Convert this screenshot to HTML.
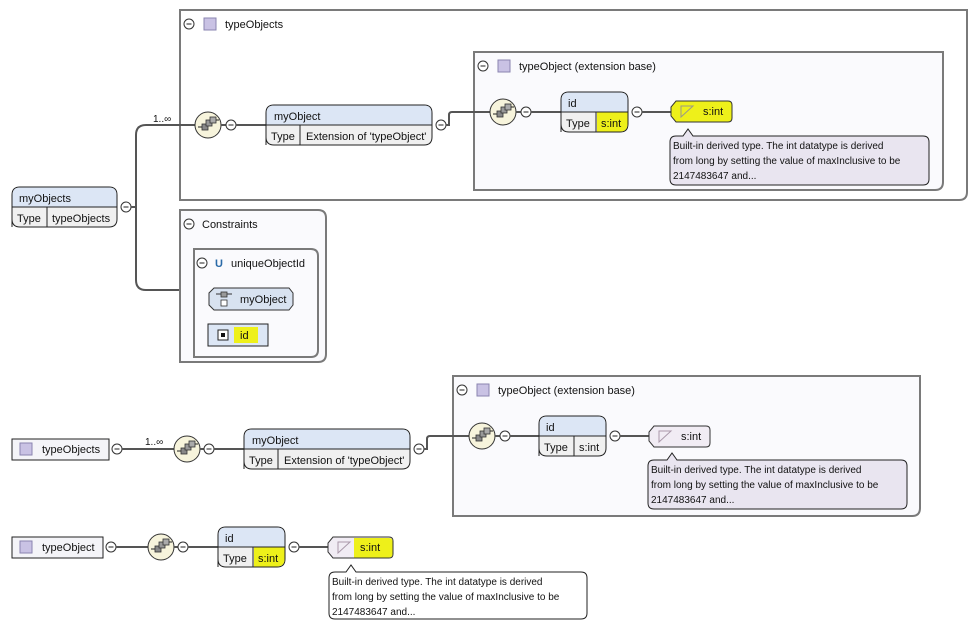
<!DOCTYPE html>
<html><head><meta charset="utf-8"><style>
html,body{margin:0;padding:0;background:#fff;width:974px;height:627px;overflow:hidden}
svg{display:block;font-family:"Liberation Sans",sans-serif;font-size:11px;fill:#111}
.bx{stroke:#7a7a7a;stroke-width:2;fill:#fafafd}
.ln{stroke:#555;stroke-width:2;fill:none}
.nd{stroke:#222;stroke-width:1;fill:#f0f0f0}
.hd{fill:#dce6f5}
.mc{fill:#fff;stroke:#333;stroke-width:1}
.sq{fill:#f7f4dc;stroke:#333;stroke-width:1}
.tt{fill:#e9e5f0;stroke:#222;stroke-width:1}
.hl{fill:#eef01a}
.sep{stroke:url(#fade);stroke-width:2}
.lav{fill:#c9c2e4;stroke:#8a84b0;stroke-width:1}
</style></head><body>
<svg width="974" height="627" viewBox="0 0 974 627" xmlns="http://www.w3.org/2000/svg">
<defs>
<linearGradient id="fade" x1="0" y1="0" x2="1" y2="0"><stop offset="0" stop-color="#bbb"/><stop offset="0.6" stop-color="#ccc"/><stop offset="1" stop-color="#ccc" stop-opacity="0.1"/></linearGradient>
<g id="minus"><circle cx="0" cy="0" r="5" class="mc"/><line x1="-2.5" y1="0" x2="2.5" y2="0" stroke="#222" stroke-width="1"/></g>
<g id="seq"><circle cx="0" cy="0" r="13" class="sq"/>
<rect x="-6" y="-1" width="6" height="6" fill="#888" stroke="#333" stroke-width=".8"/>
<rect x="-2" y="-5" width="6" height="6" fill="#999" stroke="#333" stroke-width=".8"/>
<rect x="2" y="-8" width="6" height="6" fill="#aaa" stroke="#333" stroke-width=".8"/>
<line x1="-10" y1="2" x2="-6" y2="2" stroke="#222"/><line x1="8" y1="-5" x2="11" y2="-5" stroke="#222"/></g>
</defs>

<path d="M180 10 H967 V192 Q967 200 959 200 H180 Z" class="bx" style="fill:#fff"/>
<use href="#minus" x="189" y="24"/>
<rect x="204" y="18" width="12" height="12" class="lav"/>
<text x="225" y="28">typeObjects</text>
<line x1="186" y1="39" x2="770" y2="39" class="sep"/>

<path d="M474 52 H943 V182 Q943 190 935 190 H474 Z" class="bx"/>
<use href="#minus" x="483" y="66"/>
<rect x="498" y="60" width="12" height="12" class="lav"/>
<text x="519" y="70">typeObject (extension base)</text>
<line x1="480" y1="80" x2="830" y2="80" class="sep"/>

<path d="M12 227 V195 Q12 187 20 187 H109 Q117 187 117 195 V219 Q117 227 109 227 H20 Q12 227 12 219 Z" class="nd"/>
<path d="M12.5 207 V195 Q12.5 187.5 20 187.5 H109 Q116.5 187.5 116.5 195 V207 Z" class="hd"/>
<line x1="12" y1="207" x2="117" y2="207" stroke="#222"/><line x1="47" y1="207" x2="47" y2="227" stroke="#222"/>
<text x="19" y="202">myObjects</text><text x="17" y="222">Type</text><text x="52" y="222">typeObjects</text>
<use href="#minus" x="126" y="207"/>
<path d="M131 207 H136 M195 125 H146 Q136 125 136 135 V280 Q136 290 146 290 H180" class="ln"/>
<text x="153" y="122" font-size="10">1..∞</text>
<use href="#seq" x="208" y="125"/>
<line x1="221" y1="125" x2="226" y2="125" class="ln"/>
<use href="#minus" x="231" y="125"/>
<line x1="236" y1="125" x2="266" y2="125" class="ln"/>

<path d="M266 145 V113 Q266 105 274 105 H424 Q432 105 432 113 V137 Q432 145 424 145 H274 Q266 145 266 137 Z" class="nd"/>
<path d="M266.5 125 V113 Q266.5 105.5 274 105.5 H424 Q431.5 105.5 431.5 113 V125 Z" class="hd"/>
<line x1="266" y1="125" x2="432" y2="125" stroke="#222"/><line x1="300" y1="125" x2="300" y2="145" stroke="#222"/>
<text x="274" y="120">myObject</text><text x="271" y="140">Type</text><text x="306" y="140">Extension of 'typeObject'</text>
<use href="#minus" x="441" y="125"/>
<path d="M446 125 H449 V115 Q449 112 452 112 H490" class="ln"/>
<use href="#seq" x="503" y="112"/>
<line x1="516" y1="112" x2="521" y2="112" class="ln"/>
<use href="#minus" x="526" y="112"/>
<line x1="531" y1="112" x2="561" y2="112" class="ln"/>
<path d="M561 132 V100 Q561 92 569 92 H620 Q628 92 628 100 V124 Q628 132 620 132 H569 Q561 132 561 124 Z" class="nd"/>
<path d="M561.5 112 V100 Q561.5 92.5 569 92.5 H620 Q627.5 92.5 627.5 100 V112 Z" class="hd"/>
<path d="M597 112.5 H627.5 V124 Q627.5 131.5 620 131.5 H597 Z" class="hl"/>
<line x1="561" y1="112" x2="628" y2="112" stroke="#222"/><line x1="596" y1="112" x2="596" y2="132" stroke="#222"/>
<text x="568" y="107">id</text><text x="566" y="127">Type</text><text x="601" y="127">s:int</text>
<use href="#minus" x="637" y="112"/>
<line x1="642" y1="112" x2="672" y2="112" class="ln"/>
<path d="M676 101 H728 Q732 101 732 105 V118 Q732 122 728 122 H676 L671 116 V107 Z" fill="#eef01a" stroke="#333"/>
<path d="M681 117 L681 106 L693 106 Z" fill="none" stroke="#998" stroke-width="1"/>
<text x="703" y="115">s:int</text>
<path d="M676 136 Q670 136 670 142 V179 Q670 185 676 185 H923 Q929 185 929 179 V142 Q929 136 923 136 H693 L688 129 L683 136 Z" class="tt"/>
<text x="673" y="149" font-size="10">Built-in derived type. The int datatype is derived</text>
<text x="673" y="164" font-size="10">from long by setting the value of maxInclusive to be</text>
<text x="673" y="179" font-size="10">2147483647 and...</text>

<path d="M180 210 H318 Q326 210 326 218 V354 Q326 362 318 362 H180 Z" class="bx"/>
<use href="#minus" x="189" y="224"/>
<text x="202" y="228">Constraints</text>
<line x1="186" y1="238" x2="290" y2="238" class="sep"/>
<path d="M194 249 H311 Q318 249 318 256 V350 Q318 357 311 357 H194 Z" class="bx"/>
<use href="#minus" x="202" y="263"/>
<text x="215" y="267" style="fill:#2a6aa8;font-weight:bold">U</text>
<text x="231" y="267">uniqueObjectId</text>
<line x1="200" y1="277" x2="280" y2="277" class="sep"/>
<path d="M214 288 H289 L293 293 V305 L289 310 H214 L209 305 V293 Z" fill="#d8e2f0" stroke="#333"/>
<rect x="221" y="292" width="6" height="5" fill="#999" stroke="#333" stroke-width=".8"/>
<rect x="221" y="300" width="6" height="6" fill="#fff" stroke="#333" stroke-width=".8"/>
<line x1="216" y1="294" x2="221" y2="294" stroke="#333"/><line x1="227" y1="294" x2="232" y2="294" stroke="#333"/>
<text x="240" y="303">myObject</text>
<rect x="208" y="324" width="60" height="22" fill="#dce6f5" stroke="#222"/>
<rect x="234" y="327" width="24" height="16" class="hl"/>
<rect x="218" y="330" width="10" height="10" fill="#fff" stroke="#222"/><rect x="221" y="333" width="4" height="4" fill="#111"/>
<text x="240" y="339">id</text>

<rect x="12" y="439" width="97" height="21" fill="#f4f4f8" stroke="#222"/>
<rect x="20" y="443" width="12" height="12" class="lav"/>
<text x="42" y="453">typeObjects</text>
<use href="#minus" x="117" y="449"/>
<line x1="122" y1="449" x2="174" y2="449" class="ln"/>
<text x="145" y="445" font-size="10">1..∞</text>
<use href="#seq" x="187" y="449"/>
<line x1="200" y1="449" x2="204" y2="449" class="ln"/>
<use href="#minus" x="209" y="449"/>
<line x1="214" y1="449" x2="244" y2="449" class="ln"/>
<path d="M244 469 V437 Q244 429 252 429 H402 Q410 429 410 437 V461 Q410 469 402 469 H252 Q244 469 244 461 Z" class="nd"/>
<path d="M244.5 449 V437 Q244.5 429.5 252 429.5 H402 Q409.5 429.5 409.5 437 V449 Z" class="hd"/>
<line x1="244" y1="449" x2="410" y2="449" stroke="#222"/><line x1="278" y1="449" x2="278" y2="469" stroke="#222"/>
<text x="252" y="444">myObject</text><text x="249" y="464">Type</text><text x="284" y="464">Extension of 'typeObject'</text>
<use href="#minus" x="419" y="449"/>

<path d="M453 376 H920 V508 Q920 516 912 516 H453 Z" class="bx"/>
<use href="#minus" x="462" y="390"/>
<rect x="477" y="384" width="12" height="12" class="lav"/>
<text x="498" y="394">typeObject (extension base)</text>
<line x1="459" y1="404" x2="810" y2="404" class="sep"/>
<path d="M424 449 H427 V439 Q427 436 430 436 H469" class="ln"/>
<use href="#seq" x="482" y="436"/>
<line x1="495" y1="436" x2="500" y2="436" class="ln"/>
<use href="#minus" x="505" y="436"/>
<line x1="510" y1="436" x2="539" y2="436" class="ln"/>
<path d="M539 456 V424 Q539 416 547 416 H598 Q606 416 606 424 V448 Q606 456 598 456 H547 Q539 456 539 448 Z" class="nd"/>
<path d="M539.5 436 V424 Q539.5 416.5 547 416.5 H598 Q605.5 416.5 605.5 424 V436 Z" class="hd"/>
<line x1="539" y1="436" x2="606" y2="436" stroke="#222"/><line x1="574" y1="436" x2="574" y2="456" stroke="#222"/>
<text x="546" y="431">id</text><text x="544" y="451">Type</text><text x="579" y="451">s:int</text>
<use href="#minus" x="615" y="436"/>
<line x1="620" y1="436" x2="650" y2="436" class="ln"/>
<path d="M654 426 H706 Q710 426 710 430 V443 Q710 447 706 447 H654 L649 441 V432 Z" fill="#f1ecf4" stroke="#333"/>
<path d="M659 442 L659 431 L671 431 Z" fill="none" stroke="#a9a" stroke-width="1"/>
<text x="681" y="440">s:int</text>
<path d="M654 460 Q648 460 648 466 V503 Q648 509 654 509 H901 Q907 509 907 503 V466 Q907 460 901 460 H677 L672 453 L667 460 Z" class="tt"/>
<text x="651" y="473" font-size="10">Built-in derived type. The int datatype is derived</text>
<text x="651" y="488" font-size="10">from long by setting the value of maxInclusive to be</text>
<text x="651" y="503" font-size="10">2147483647 and...</text>

<rect x="12" y="537" width="91" height="21" fill="#f4f4f8" stroke="#222"/>
<rect x="20" y="541" width="12" height="12" class="lav"/>
<text x="42" y="551">typeObject</text>
<use href="#minus" x="111" y="547"/>
<line x1="116" y1="547" x2="148" y2="547" class="ln"/>
<use href="#seq" x="161" y="547"/>
<line x1="174" y1="547" x2="178" y2="547" class="ln"/>
<use href="#minus" x="183" y="547"/>
<line x1="188" y1="547" x2="218" y2="547" class="ln"/>
<path d="M218 567 V535 Q218 527 226 527 H277 Q285 527 285 535 V559 Q285 567 277 567 H226 Q218 567 218 559 Z" class="nd"/>
<path d="M218.5 547 V535 Q218.5 527.5 226 527.5 H277 Q284.5 527.5 284.5 535 V547 Z" class="hd"/>
<path d="M254 547.5 H284.5 V559 Q284.5 566.5 277 566.5 H254 Z" class="hl"/>
<line x1="218" y1="547" x2="285" y2="547" stroke="#222"/><line x1="253" y1="547" x2="253" y2="567" stroke="#222"/>
<text x="225" y="542">id</text><text x="223" y="562">Type</text><text x="258" y="562">s:int</text>
<use href="#minus" x="294" y="547"/>
<line x1="299" y1="547" x2="329" y2="547" class="ln"/>
<path d="M333 537 H389 Q393 537 393 541 V554 Q393 558 389 558 H333 L328 552 V543 Z" fill="#f1ecf4" stroke="#333"/>
<path d="M354 538 H389 Q392.5 538 392.5 541 V554 Q392.5 557.5 389 557.5 H354 Z" class="hl"/>
<path d="M338 553 L338 542 L350 542 Z" fill="none" stroke="#a9a" stroke-width="1"/>
<text x="360" y="551">s:int</text>
<path d="M335 572 Q329 572 329 578 V613 Q329 619 335 619 H581 Q587 619 587 613 V578 Q587 572 581 572 H356 L351 565 L346 572 Z" fill="#fff" stroke="#222"/>
<text x="332" y="585" font-size="10">Built-in derived type. The int datatype is derived</text>
<text x="332" y="600" font-size="10">from long by setting the value of maxInclusive to be</text>
<text x="332" y="615" font-size="10">2147483647 and...</text>
</svg>
</body></html>
